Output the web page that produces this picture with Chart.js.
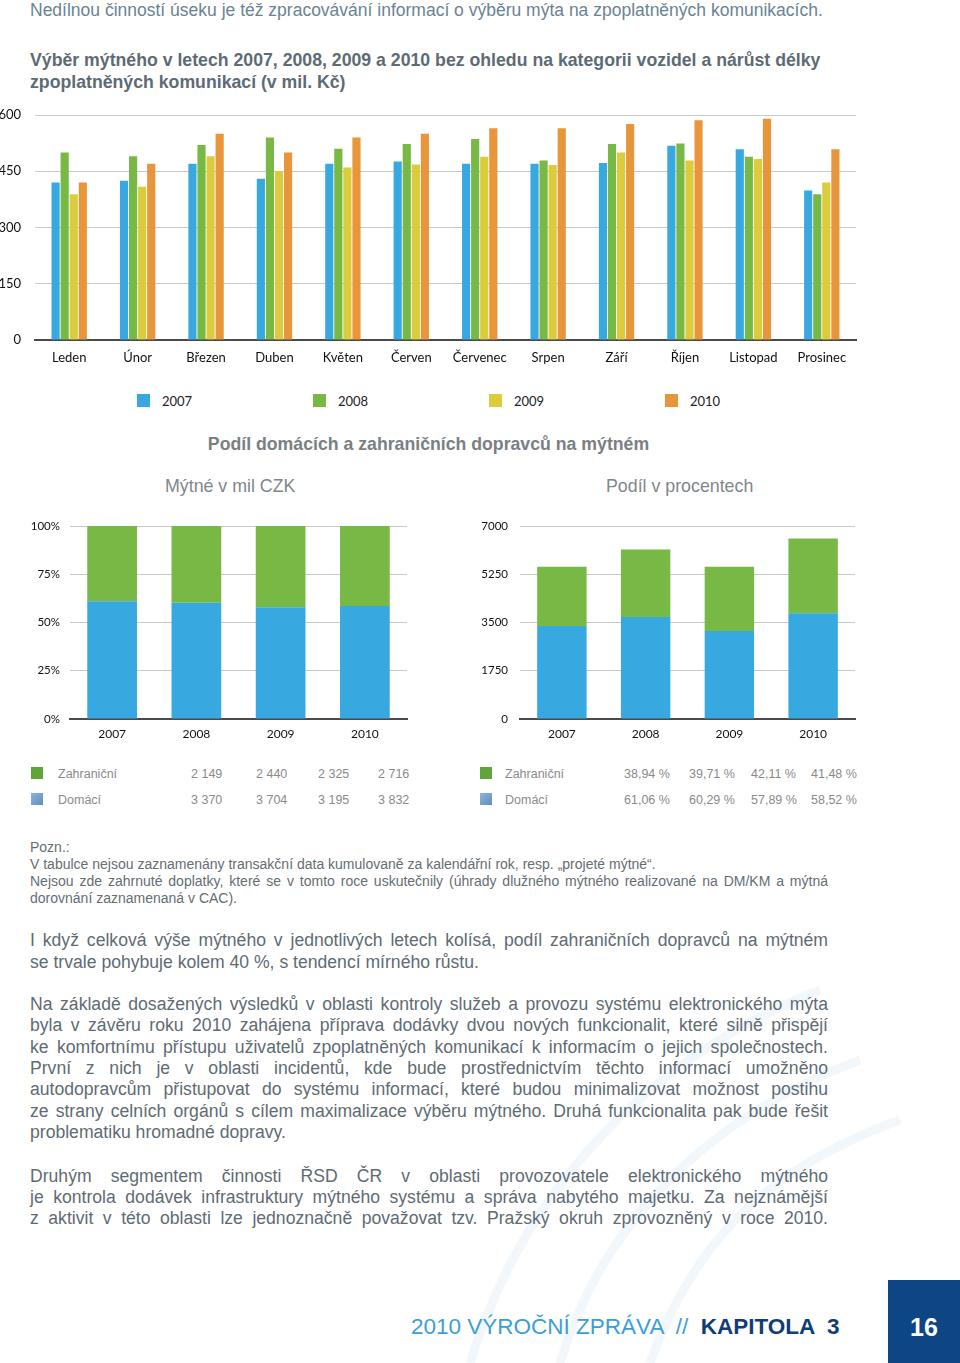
<!DOCTYPE html>
<html>
<head>
<meta charset="utf-8">
<script src="https://cdn.jsdelivr.net/npm/chart.js@4.4.1/dist/chart.umd.min.js"></script>
<style>
  html,body{margin:0;padding:0;background:#fff;}
  body{width:960px;height:1363px;position:relative;overflow:hidden;font-family:"Liberation Sans",Arial,sans-serif;}
  .abs{position:absolute;white-space:nowrap;}
  .cv{position:absolute;}
  .line{position:absolute;left:30px;width:798px;white-space:nowrap;}
  .j{text-align:justify;text-align-last:justify;}
  .lg{position:absolute;font-family:Lato,sans-serif;font-size:13px;color:#222;}
  .lg i{position:absolute;width:13px;height:13px;top:-7px;}
  .tb{position:absolute;font-size:12.5px;color:#8a8a8a;}
</style>
</head>
<body>
<svg width="960" height="1363" style="position:absolute;left:0;top:0" fill="none">
  <g stroke="#f2f7fb" stroke-width="9">
    <path d="M470 1363 C 520 1200, 640 1060, 820 990"/>
    <path d="M560 1363 C 600 1230, 700 1120, 860 1060"/>
    <path d="M650 1363 C 690 1250, 760 1170, 900 1120"/>
  </g>
</svg>

<div class="abs" style="left:30px;top:0px;font-size:17.5px;color:#6a8394;">Nedílnou činností úseku je též zpracovávání informací o výběru mýta na zpoplatněných komunikacích.</div>
<div class="abs" style="left:30px;top:49px;font-size:17.7px;line-height:22px;font-weight:bold;color:#5d6b74;">Výběr mýtného v letech 2007, 2008, 2009 a 2010 bez ohledu na kategorii vozidel a nárůst délky<br>zpoplatněných komunikací (v mil. Kč)</div>

<canvas id="c1" class="cv" style="left:0px;top:100px;width:870px;height:275px;"></canvas>
<div id="legend"></div>

<div class="abs" style="left:0;width:857px;text-align:center;top:434px;font-size:17.7px;font-weight:bold;color:#7a7f83;">Podíl domácích a zahraničních dopravců na mýtném</div>
<div class="abs" style="left:165px;top:476px;font-size:17.8px;color:#80878c;">Mýtné v mil CZK</div>
<div class="abs" style="left:606px;top:476px;font-size:17.8px;color:#80878c;">Podíl v procentech</div>

<canvas id="c2" class="cv" style="left:0px;top:510px;width:420px;height:235px;"></canvas>
<canvas id="c3" class="cv" style="left:470px;top:510px;width:400px;height:235px;"></canvas>
<div id="tables"></div>

<div style="position:absolute;left:0;top:0;font-size:14px;line-height:17px;color:#666d72;">
  <div class="line" style="top:839px;">Pozn.:</div>
  <div class="line" style="top:856px;">V tabulce nejsou zaznamenány transakční data kumulovaně za kalendářní rok, resp. „projeté mýtné“.</div>
  <div class="line j" style="top:873px;">Nejsou zde zahrnuté doplatky, které se v tomto roce uskutečnily (úhrady dlužného mýtného realizované na DM/KM a mýtná</div>
  <div class="line" style="top:890px;">dorovnání zaznamenaná v CAC).</div>
</div>

<div style="position:absolute;left:0;top:0;font-size:17.6px;line-height:21px;color:#5e6b73;">
  <div class="line j" style="top:930px;">I když celková výše mýtného v jednotlivých letech kolísá, podíl zahraničních dopravců na mýtném</div>
  <div class="line" style="top:952px;">se trvale pohybuje kolem 40 %, s tendencí mírného růstu.</div>

  <div class="line j" style="top:994px;">Na základě dosažených výsledků v oblasti kontroly služeb a provozu systému elektronického mýta</div>
  <div class="line j" style="top:1015px;">byla v závěru roku 2010 zahájena příprava dodávky dvou nových funkcionalit, které silně přispějí</div>
  <div class="line j" style="top:1037px;">ke komfortnímu přístupu uživatelů zpoplatněných komunikací k informacím o jejich společnostech.</div>
  <div class="line j" style="top:1058px;">První z nich je v oblasti incidentů, kde bude prostřednictvím těchto informací umožněno</div>
  <div class="line j" style="top:1079px;">autodopravcům přistupovat do systému informací, které budou minimalizovat možnost postihu</div>
  <div class="line j" style="top:1101px;">ze strany celních orgánů s cílem maximalizace výběru mýtného. Druhá funkcionalita pak bude řešit</div>
  <div class="line" style="top:1122px;">problematiku hromadné dopravy.</div>

  <div class="line j" style="top:1166px;">Druhým segmentem činnosti ŘSD ČR v oblasti provozovatele elektronického mýtného</div>
  <div class="line j" style="top:1187px;">je kontrola dodávek infrastruktury mýtného systému a správa nabytého majetku. Za nejznámější</div>
  <div class="line j" style="top:1208px;">z aktivit v této oblasti lze jednoznačně považovat tzv. Pražský okruh zprovozněný v roce 2010.</div>
</div>

<div class="abs" style="left:411px;top:1314px;font-size:22.5px;color:#3a9fd6;">2010 VÝROČNÍ ZPRÁVA &nbsp;// &nbsp;<b style="color:#0f3d78;">KAPITOLA &nbsp;3</b></div>
<div style="position:absolute;left:888px;top:1280px;width:72px;height:83px;background:#0d4585;"></div>
<div class="abs" style="left:888px;width:72px;text-align:center;top:1313px;font-size:25px;font-weight:bold;color:#fff;">16</div>

<script>
// ---------- DATA ----------
const months = ['Leden','Únor','Březen','Duben','Květen','Červen','Červenec','Srpen','Září','Říjen','Listopad','Prosinec'];
const years = ['2007','2008','2009','2010'];
const toll2007 = [420, 425, 470, 430, 470, 476, 470, 470, 472, 518, 509, 399];
const toll2008 = [500, 490, 520, 540, 510, 523, 536, 479, 523, 524, 489, 389];
const toll2009 = [389, 409, 490, 451, 460, 468, 489, 467, 500, 479, 483, 420];
const toll2010 = [420, 470, 550, 500, 540, 550, 565, 565, 576, 586, 590, 509];
const monthlyTicks = [0, 150, 300, 450, 600];

const foreignAbs = [2149, 2440, 2325, 2716];
const domesticAbs = [3370, 3704, 3195, 3832];
const foreignPct = [38.94, 39.71, 42.11, 41.48];
const domesticPct = [61.06, 60.29, 57.89, 58.52];
const pctTicks = [0, 25, 50, 75, 100];
const absTicks = [0, 1750, 3500, 5250, 7000];
const foreignLabel = 'Zahraniční';
const domesticLabel = 'Domácí';

// ---------- STYLE ----------
const yearColors = ['#37a8e0', '#78b844', '#dccb3c', '#e8963b'];
const cBlue = '#37a8e0', cGreen = '#78b844';
const tickFont = {family: 'Lato', size: 13};

function fixY(w){ return function(s){ s.width = w; s.paddingTop = 0; s.paddingBottom = 0; }; }
function fixX(h){ return function(s){ s.height = h; s.paddingLeft = 0; s.paddingRight = 0; }; }

Chart.defaults.animation = false;
Chart.defaults.devicePixelRatio = 1;

// Monthly chart
new Chart(document.getElementById('c1'), {
  type: 'bar',
  data: {
    labels: months,
    datasets: [toll2007, toll2008, toll2009, toll2010].map((d, i) => ({
      label: years[i], data: d, backgroundColor: yearColors[i],
      categoryPercentage: 0.53, barPercentage: 0.9
    }))
  },
  options: {
    responsive: false, maintainAspectRatio: false,
    layout: {padding: {top: 15, right: 14, left: 0, bottom: 0}},
    plugins: {legend: {display: false}, tooltip: {enabled: false}},
    scales: {
      x: {
        grid: {display: false},
        border: {display: true, color: '#4a4a4a', width: 2},
        ticks: {font: tickFont, color: '#111', padding: 2, maxRotation: 0, autoSkip: false},
        afterFit: fixX(35)
      },
      y: {
        min: 0, max: 600,
        afterBuildTicks: s => { s.ticks = monthlyTicks.map(v => ({value: v})); },
        grid: {color: '#c9c9c9', lineWidth: 1, drawTicks: false},
        border: {display: false},
        ticks: {font: tickFont, color: '#111', padding: 14},
        afterFit: fixY(35)
      }
    }
  }
});

function stacked(id, dom, forg, ticks, max, yw, pad, fmt){
  new Chart(document.getElementById(id), {
    type: 'bar',
    data: {
      labels: years,
      datasets: [
        {label: domesticLabel, data: dom, backgroundColor: cBlue, categoryPercentage: 0.59, barPercentage: 1},
        {label: foreignLabel, data: forg, backgroundColor: cGreen, categoryPercentage: 0.59, barPercentage: 1}
      ]
    },
    options: {
      responsive: false, maintainAspectRatio: false,
      layout: {padding: {top: 16, right: pad, left: 0, bottom: 0}},
      plugins: {legend: {display: false}, tooltip: {enabled: false}},
      scales: {
        x: {
          stacked: true,
          grid: {display: false},
          border: {display: true, color: '#4a4a4a', width: 2},
          ticks: {font: {family: 'Lato', size: 12}, color: '#111', padding: 0},
          afterFit: fixX(26)
        },
        y: {
          stacked: true, min: 0, max: max,
          afterBuildTicks: s => { s.ticks = ticks.map(v => ({value: v})); },
          grid: {color: '#c9c9c9', lineWidth: 1, drawTicks: false},
          border: {display: false},
          ticks: {font: {family: 'Lato', size: 11.5}, color: '#111', padding: yw === 70 ? 10 : 12, callback: fmt},
          afterFit: fixY(yw)
        }
      }
    }
  });
}
stacked('c2', domesticPct, foreignPct, pctTicks, 100, 70, 13, v => v + '%');
stacked('c3', domesticAbs, foreignAbs, absTicks, 7000, 50, 15, v => String(v));

// HTML legend
const lg = document.getElementById('legend');
const lgX = [137, 313, 489, 665];
years.forEach((y, i) => {
  const d = document.createElement('div');
  d.className = 'lg';
  d.style.left = lgX[i] + 'px'; d.style.top = '393px';
  d.innerHTML = '<i style="left:0;top:1px;background:' + yearColors[i] + '"></i><span style="position:absolute;left:25px;top:0;">' + y + '</span>';
  lg.appendChild(d);
});

// Tables
const tb = document.getElementById('tables');
function fmtAbs(v){ return String(v).replace(/(\d)(\d{3})$/, '$1 $2'); }
function fmtPct(v){ return v.toFixed(2).replace('.', ',') + ' %'; }
function table(x0, nameX, valX, rows){
  rows.forEach((r, ri) => {
    const y = 767 + ri * 26;
    const sq = document.createElement('div');
    sq.style.cssText = 'position:absolute;left:' + x0 + 'px;top:' + (y) + 'px;width:12px;height:12px;background:' + r.col + ';';
    tb.appendChild(sq);
    const n = document.createElement('div');
    n.className = 'tb'; n.style.left = nameX + 'px'; n.style.top = (y) + 'px'; n.textContent = r.name;
    tb.appendChild(n);
    r.vals.forEach((v, i) => {
      const e = document.createElement('div');
      e.className = 'tb'; e.style.left = valX[i] + 'px'; e.style.top = (y) + 'px'; e.textContent = v;
      tb.appendChild(e);
    });
  });
}
table(31, 58, [191, 256, 318, 378], [
  {name: foreignLabel, col: '#5fa63a', vals: foreignAbs.map(fmtAbs)},
  {name: domesticLabel, col: 'linear-gradient(135deg,#8fb4d8,#5f8fbf)', vals: domesticAbs.map(fmtAbs)}
]);
table(480, 505, [624, 689, 751, 811], [
  {name: foreignLabel, col: '#5fa63a', vals: foreignPct.map(fmtPct)},
  {name: domesticLabel, col: 'linear-gradient(135deg,#8fb4d8,#5f8fbf)', vals: domesticPct.map(fmtPct)}
]);
</script>
</body>
</html>
